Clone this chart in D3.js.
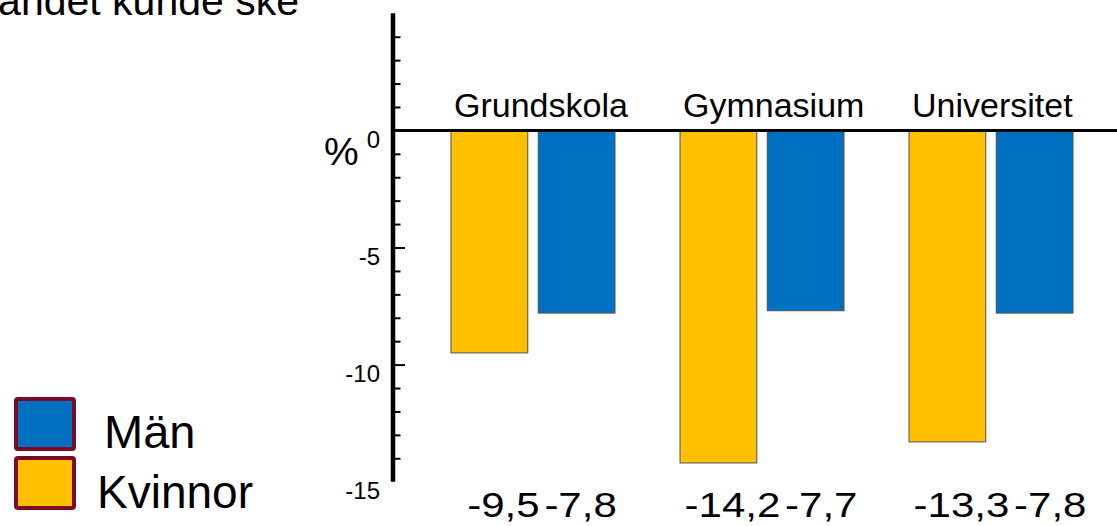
<!DOCTYPE html>
<html>
<head>
<meta charset="utf-8">
<script src="https://cdn.jsdelivr.net/npm/d3@7"></script>
<style>
  html, body { margin: 0; padding: 0; background: #fff; overflow: hidden; }
  svg { display: block; font-family: "Liberation Sans", Arial, sans-serif; }
</style>
</head>
<body>
<svg id="chart" width="1117" height="526"></svg>
<script>
// Change in percent by level of education, women and men
const categories = ["Grundskola", "Gymnasium", "Universitet"];
const seriesNames = ["Kvinnor", "Män"];
const kvinnor = [-9.5, -14.2, -13.3];
const man = [-7.8, -7.7, -7.8];
const majorTicks = [0, -5, -10, -15];
const minorTicks = [4, 3, 2, 1, -1, -2, -3, -4, -6, -7, -8, -9, -11, -12, -13, -14];
const legendItems = ["Män", "Kvinnor"];

const colors = { "Kvinnor": "#FFC000", "Män": "#0070C0" };

const svg = d3.select("#chart");
const W = 1117;

const rows = categories.map((c, i) => ({ cat: c, values: [
  { key: "Kvinnor", value: kvinnor[i] },
  { key: "Män", value: man[i] }
]}));

const y = d3.scaleLinear().domain([-15, 5]).range([481.7, 13.3]);
const axisX = 393;

const x0 = d3.scaleBand().domain(categories).range([418.5, 1105.5]).padding(0);
const groupW = 164;
const x1 = d3.scaleBand().domain(seriesNames).range([0, groupW]).paddingInner(0.12);

const locale = d3.formatLocale({ decimal: ",", thousands: " ", grouping: [3], currency: ["", ""], minus: "-" });
const fmt = locale.format(".1f");
const fmtInt = locale.format("d");

// heading fragment, top left
svg.append("text")
  .attr("x", 299).attr("y", 15)
  .attr("text-anchor", "end")
  .attr("font-size", 41)
  .attr("fill", "#000")
  .text("andet kunde ske");

// bars
const groups = svg.append("g").selectAll("g")
  .data(rows).join("g")
  .attr("transform", d => `translate(${x0(d.cat) + x0.bandwidth() / 2 - groupW / 2},0)`);

groups.selectAll("rect")
  .data(d => d.values).join("rect")
  .attr("x", d => x1(d.key))
  .attr("width", x1.bandwidth())
  .attr("y", d => y(Math.max(0, d.value)))
  .attr("height", d => Math.abs(y(d.value) - y(0)))
  .attr("fill", d => colors[d.key])
  .attr("stroke", "#505050")
  .attr("stroke-width", 1);

// zero line
svg.append("line")
  .attr("x1", axisX).attr("x2", W)
  .attr("y1", y(0)).attr("y2", y(0))
  .attr("stroke", "#000").attr("stroke-width", 3);

// y axis: minor ticks, major ticks, labels
const minorAxis = svg.append("g").attr("transform", `translate(${axisX},0)`)
  .call(d3.axisRight(y).tickValues(minorTicks).tickSize(7.5).tickFormat(""));
const majorAxis = svg.append("g").attr("transform", `translate(${axisX},0)`)
  .call(d3.axisRight(y).tickValues(majorTicks.filter(v => v > -15)).tickSize(12).tickFormat(""));
[minorAxis, majorAxis].forEach(g => {
  g.select(".domain").remove();
  g.selectAll(".tick line").attr("stroke", "#000").attr("stroke-width", 2);
});

const labelAxis = svg.append("g").attr("transform", `translate(${axisX},0)`)
  .call(d3.axisLeft(y).tickValues(majorTicks).tickSize(0).tickPadding(13).tickFormat(fmtInt));
labelAxis.select(".domain").remove();
labelAxis.selectAll(".tick text")
  .attr("font-family", "Liberation Sans, Arial, sans-serif")
  .attr("font-size", 24)
  .attr("fill", "#000")
  .attr("dy", "0.71em");

svg.append("line")
  .attr("x1", axisX).attr("x2", axisX)
  .attr("y1", y(5)).attr("y2", y(-15))
  .attr("stroke", "#000").attr("stroke-width", 4.5);

// unit
svg.append("text")
  .attr("x", 324).attr("y", 165)
  .attr("font-size", 39)
  .attr("fill", "#000")
  .text("%");

// category labels above the zero line
svg.append("g").selectAll("text")
  .data(categories).join("text")
  .attr("x", d => x0(d) + x0.bandwidth() / 2 - groupW / 2 + 3)
  .attr("y", 117)
  .attr("font-size", 34)
  .attr("fill", "#000")
  .text(d => d);

// value labels at the bottom
const valueLabels = svg.append("g").selectAll("text")
  .data(rows).join("text")
  .attr("transform", d => `translate(${x0(d.cat) + x0.bandwidth() / 2 + 9},516.5) scale(1.2,1)`)
  .attr("text-anchor", "middle")
  .attr("font-size", 35)
  .attr("fill", "#000");
valueLabels.selectAll("tspan")
  .data(d => d.values).join("tspan")
  .attr("dx", (d, i) => i > 0 ? 4 : 0)
  .text(d => fmt(d.value));

// legend
const legend = svg.append("g").selectAll("g")
  .data(legendItems).join("g")
  .attr("transform", (d, i) => `translate(0,${i * 59})`);
legend.append("rect")
  .attr("x", 16).attr("y", 399)
  .attr("width", 58).attr("height", 50)
  .attr("rx", 2)
  .attr("fill", d => colors[d])
  .attr("stroke", "#7B0A22")
  .attr("stroke-width", 4);
legend.append("text")
  .attr("x", (d, i) => i === 0 ? 104 : 97)
  .attr("y", (d, i) => i === 0 ? 448 : 449)
  .attr("font-size", (d, i) => i === 0 ? 47 : 46)
  .attr("fill", "#000")
  .text(d => d);
</script>
</body>
</html>
